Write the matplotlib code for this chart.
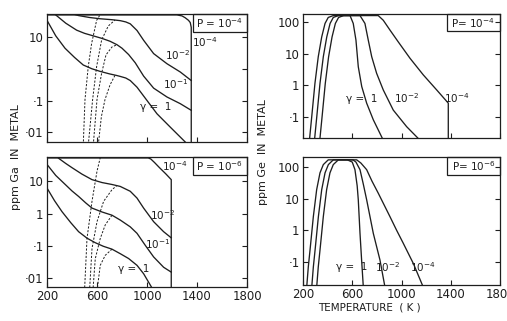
import matplotlib
matplotlib.use('Agg')
import matplotlib.pyplot as plt
from matplotlib.ticker import FixedLocator, FixedFormatter, NullLocator
from matplotlib.patches import Rectangle
import numpy as np

W, H = 507, 321

# ---- data: temperature (K) and log10(ppm) ----
# top left, Ga, P = 1e-4
tl_T_g1 = [200, 270, 344, 420, 490, 560, 624, 700, 757, 786, 830, 866, 920, 1000, 1080, 1186, 1306]
tl_g1 = [1.54, 1.05, 0.66, 0.37, 0.13, 0.01, -0.07, -0.15, -0.20, -0.23, -0.28, -0.36, -0.57, -0.99, -1.41, -1.83, -2.30]
tl_T_m1 = [240, 264, 350, 437, 500, 570, 640, 704, 760, 800, 853, 906, 973, 1053, 1160, 1266, 1354]
tl_m1 = [1.85, 1.73, 1.45, 1.23, 1.13, 1.05, 0.97, 0.88, 0.77, 0.66, 0.46, 0.20, -0.22, -0.60, -0.88, -1.09, -1.30]
tl_T_m2 = [400, 453, 540, 624, 720, 786, 830, 866, 920, 973, 1053, 1160, 1266, 1354]
tl_m2 = [1.75, 1.69, 1.63, 1.59, 1.56, 1.53, 1.49, 1.43, 1.22, 0.91, 0.49, 0.17, -0.09, -0.36]
tl_T_m4 = [200, 1240, 1280, 1306, 1332, 1346, 1354, 1354]
tl_m4 = [1.71, 1.71, 1.68, 1.62, 1.54, 1.47, 1.32, -3.0]
tl_dash_T = [[490, 504, 530, 557, 597, 624],
             [530, 565, 597, 637, 690, 744],
             [570, 600, 637, 672, 720, 760],
             [610, 635, 664, 704, 746]]
tl_dash = [[-2.4, -0.96, 0.08, 0.81, 1.54, 1.71],
           [-2.4, -0.96, 0.08, 0.92, 1.36, 1.55],
           [-2.4, -0.96, -0.13, 0.45, 0.70, 0.77],
           [-2.4, -1.50, -0.96, -0.50, -0.18]]

# bottom left, Ga, P = 1e-6
bl_T_g1 = [200, 260, 320, 390, 453, 520, 586, 650, 720, 786, 853, 920, 973, 1040]
bl_g1 = [0.79, 0.40, 0.06, -0.28, -0.56, -0.76, -0.90, -1.01, -1.10, -1.24, -1.39, -1.60, -1.86, -2.30]
bl_T_m1 = [200, 270, 346, 400, 453, 510, 560, 640, 720, 786, 866, 920, 986, 1053, 1133, 1194]
bl_m1 = [1.52, 1.18, 0.90, 0.70, 0.53, 0.33, 0.17, 0.05, -0.05, -0.20, -0.41, -0.61, -0.98, -1.34, -1.66, -1.81]
bl_T_m2 = [260, 293, 350, 400, 480, 560, 640, 720, 786, 866, 920, 973, 1053, 1133, 1194]
bl_m2 = [1.85, 1.71, 1.55, 1.42, 1.22, 1.05, 0.96, 0.90, 0.84, 0.69, 0.48, 0.17, -0.25, -0.56, -0.75]
bl_T_m4 = [200, 1010, 1030, 1060, 1100, 1150, 1194, 1194]
bl_m4 = [1.72, 1.72, 1.69, 1.58, 1.42, 1.23, 1.05, -3.0]
bl_dash_T = [[500, 520, 560, 600, 626],
             [540, 560, 600, 653, 720, 760],
             [567, 586, 626, 666, 720],
             [600, 626, 666, 720]]
bl_dash = [[-2.4, -0.77, 0.38, 1.31, 1.73],
           [-2.4, -1.08, -0.25, 0.38, 0.74, 0.87],
           [-2.4, -1.40, -0.77, -0.35, -0.05],
           [-2.4, -1.60, -1.29, -1.10]]

# top right, Ge, P = 1e-4
tr_T_g1 = [335, 355, 381, 408, 436, 463, 489, 530, 582, 608, 630, 649, 677, 717, 771, 852]
tr_g1 = [-1.8, -1.0, 0.06, 0.91, 1.54, 1.97, 2.16, 2.22, 2.22, 1.97, 1.44, 0.59, -0.04, -0.57, -1.10, -1.75]
tr_T_m2 = [292, 312, 338, 365, 393, 420, 446, 487, 663, 703, 730, 758, 798, 852, 933, 1042, 1150]
tr_m2 = [-1.8, -1.0, 0.06, 0.91, 1.54, 1.97, 2.16, 2.22, 2.22, 1.97, 1.44, 0.91, 0.38, -0.15, -0.79, -1.32, -1.75]
tr_T_m4 = [251, 271, 297, 324, 352, 379, 405, 446, 811, 852, 906, 974, 1069, 1177, 1286, 1380, 1380]
tr_m4 = [-1.8, -1.0, 0.06, 0.91, 1.54, 1.97, 2.16, 2.22, 2.22, 2.07, 1.76, 1.38, 0.86, 0.33, -0.15, -0.57, -3.0]

# bottom right, Ge, P = 1e-6
br_T_g1 = [311, 324, 338, 365, 392, 419, 446, 487, 560, 600, 622, 640, 649, 663, 676, 690]
br_g1 = [-1.8, -1.16, -0.63, 0.43, 1.28, 1.81, 2.07, 2.22, 2.22, 2.15, 1.91, 1.40, 0.96, -0.10, -0.94, -1.80]
br_T_m2 = [271, 284, 298, 325, 352, 379, 406, 446, 606, 630, 663, 690, 717, 771, 825, 866]
br_m2 = [-1.8, -1.16, -0.63, 0.43, 1.28, 1.81, 2.07, 2.22, 2.22, 2.15, 1.91, 1.45, 0.96, -0.10, -0.94, -1.80]
br_T_m4 = [230, 243, 257, 284, 311, 338, 365, 405, 636, 670, 717, 760, 811, 906, 960, 1014, 1096, 1177]
br_m4 = [-1.8, -1.16, -0.63, 0.43, 1.28, 1.81, 2.07, 2.22, 2.22, 2.12, 1.91, 1.55, 1.17, 0.43, 0.00, -0.41, -1.05, -1.80]

x_ticks = [200, 600, 1000, 1400, 1800]
left_ticks = [0.01, 0.1, 1, 10]
left_labels = ['·01', '·1', '1', '10']
right_ticks = [0.1, 1, 10, 100]
right_labels = ['·1', '1', '10', '100']

# ---- figure ----
fig = plt.figure(figsize=(W / 100, H / 100), dpi=100)
plt.rcParams['font.family'] = ['DejaVu Sans']
ink = '#1e1e1e'


def box(l, t, r, b):
    return [l / W, 1 - b / H, (r - l) / W, (b - t) / H]


def setup(ax, ylo, yhi, ticks, labels, xlabels):
    ax.set_yscale('log')
    ax.set_xlim(200, 1800)
    ax.set_ylim(10 ** ylo, 10 ** yhi)
    ax.yaxis.set_major_locator(FixedLocator(ticks))
    ax.yaxis.set_major_formatter(FixedFormatter(labels))
    ax.yaxis.set_minor_locator(NullLocator())
    ax.xaxis.set_major_locator(FixedLocator(x_ticks))
    ax.tick_params(direction='in', length=3.5, width=0.8, color=ink,
                   labelsize=8.5, labelcolor=ink, right=True, pad=2.5)
    if not xlabels:
        ax.tick_params(labelbottom=False)
    for s in ax.spines.values():
        s.set_linewidth(0.9)
        s.set_color(ink)


def pbox(ax, txt):
    ax.add_patch(Rectangle((0.73, 0.86), 0.27, 0.14, transform=ax.transAxes,
                           fill=False, lw=0.9, ec=ink, clip_on=False))
    ax.text(0.865, 0.93, txt, transform=ax.transAxes, ha='center', va='center',
            fontsize=7.5, color=ink)


def curve(ax, T, lg, ls='-', lw=0.95):
    ax.plot(T, 10 ** np.array(lg), color=ink, lw=lw, ls=ls)


def lab(ax, T, lg, txt, size=7.5):
    ax.text(T, 10 ** lg, txt, ha='center', va='center', fontsize=size, color=ink)


ax_tl = fig.add_axes(box(47, 14, 247, 142))
ax_bl = fig.add_axes(box(47, 157, 247, 287))
ax_tr = fig.add_axes(box(303, 14, 500, 138))
ax_br = fig.add_axes(box(303, 157, 500, 285))

setup(ax_tl, -2.30, 1.74, left_ticks, left_labels, False)
setup(ax_bl, -2.27, 1.75, left_ticks, left_labels, True)
setup(ax_tr, -1.68, 2.27, right_ticks, right_labels, False)
setup(ax_br, -1.73, 2.31, right_ticks, right_labels, True)

dash = (0, (2.2, 1.6))

# top left
for T, lg in [(tl_T_g1, tl_g1), (tl_T_m1, tl_m1), (tl_T_m2, tl_m2), (tl_T_m4, tl_m4)]:
    curve(ax_tl, T, lg)
for T, lg in zip(tl_dash_T, tl_dash):
    curve(ax_tl, T, lg, ls=dash, lw=0.7)
lab(ax_tl, 1465, 0.86, r'$10^{-4}$')
lab(ax_tl, 1243, 0.43, r'$10^{-2}$')
lab(ax_tl, 1227, -0.48, r'$10^{-1}$')
lab(ax_tl, 1066, -1.21, 'γ =  1')
pbox(ax_tl, r'P = $10^{-4}$')

# bottom left
for T, lg in [(bl_T_g1, bl_g1), (bl_T_m1, bl_m1), (bl_T_m2, bl_m2), (bl_T_m4, bl_m4)]:
    curve(ax_bl, T, lg)
for T, lg in zip(bl_dash_T, bl_dash):
    curve(ax_bl, T, lg, ls=dash, lw=0.7)
lab(ax_bl, 1222, 1.46, r'$10^{-4}$')
lab(ax_bl, 1122, -0.04, r'$10^{-2}$')
lab(ax_bl, 1083, -0.94, r'$10^{-1}$')
lab(ax_bl, 890, -1.70, 'γ =  1')
pbox(ax_bl, r'P = $10^{-6}$')

# top right
for T, lg in [(tr_T_g1, tr_g1), (tr_T_m2, tr_m2), (tr_T_m4, tr_m4)]:
    curve(ax_tr, T, lg)
lab(ax_tr, 677, -0.43, 'γ =  1')
lab(ax_tr, 1042, -0.41, r'$10^{-2}$')
lab(ax_tr, 1448, -0.41, r'$10^{-4}$')
pbox(ax_tr, r'P= $10^{-4}$')

# bottom right
for T, lg in [(br_T_g1, br_g1), (br_T_m2, br_m2), (br_T_m4, br_m4)]:
    curve(ax_br, T, lg)
lab(ax_br, 595, -1.17, 'γ =  1')
lab(ax_br, 885, -1.17, r'$10^{-2}$')
lab(ax_br, 1169, -1.17, r'$10^{-4}$')
pbox(ax_br, r'P= $10^{-6}$')

fig.text(16 / W, 1 - 157 / H, 'ppm Ga  IN  METAL', rotation=90, ha='center',
         va='center', fontsize=8, color=ink)
fig.text(263 / W, 1 - 152 / H, 'ppm Ge  IN  METAL', rotation=90, ha='center',
         va='center', fontsize=8, color=ink)
fig.text(369 / W, 1 - 307 / H, 'TEMPERATURE  ( K )', ha='center', va='center',
         fontsize=7.5, color=ink)

fig.savefig('out.png', dpi=100)
